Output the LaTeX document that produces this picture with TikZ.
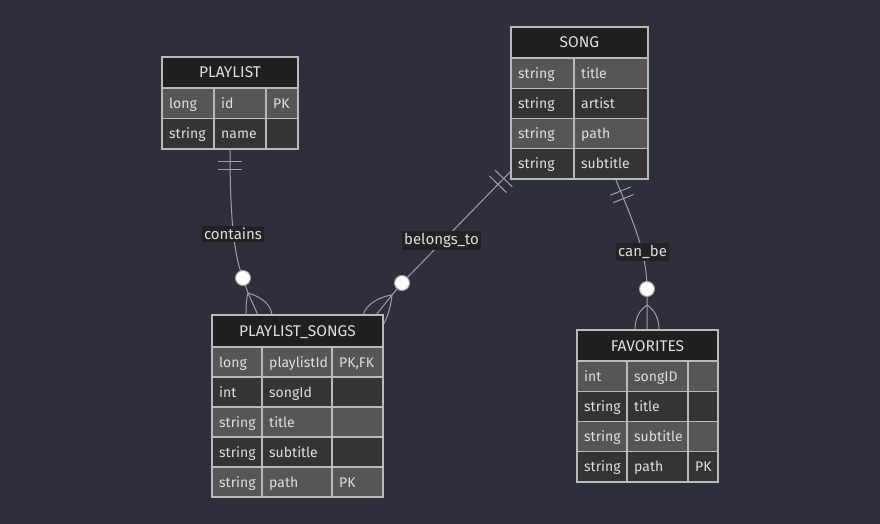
\documentclass[tikz,border=0pt]{standalone}
\usepackage{fontspec}
\setmainfont{Fira Sans}
\definecolor{bg}{RGB}{43,48,59}
\definecolor{hdr}{RGB}{31,32,32}
\definecolor{rowodd}{RGB}{86,86,86}
\definecolor{roweven}{RGB}{52,52,52}
\definecolor{bordercol}{RGB}{185,185,185}
\definecolor{txtcol}{RGB}{222,222,222}
\definecolor{linecol}{RGB}{160,160,160}
\definecolor{lblbg}{RGB}{33,34,36}
\newcommand\tcols[4]{\def\xa{#1}\def\xb{#2}\def\xc{#3}\def\xd{#4}}
\newcommand\thead[4]{%
  \draw[cellborder, fill=hdr] (\xa,#2) rectangle (\xd,#3);
  \node[hdrtext] (#1) at ({(\xa+\xd)/2},{(#2+#3)/2+5.5}) {#4};}
\newcommand\trow[7]{%
  \draw[cellborder, fill=#4] (\xa,#2) rectangle (\xb,#3);
  \draw[cellborder, fill=#4] (\xb,#2) rectangle (\xc,#3);
  \draw[cellborder, fill=#4] (\xc,#2) rectangle (\xd,#3);
  \node[celltext] (#1a) at ({\xa+7},{(#2+#3)/2+5}) {#5};
  \node[celltext] (#1b) at ({\xb+7},{(#2+#3)/2+5}) {#6};
  \node[celltext] (#1c) at ({\xc+7},{(#2+#3)/2+5}) {#7};}
\newcommand\trowii[6]{%
  \draw[cellborder, fill=#4] (\xa,#2) rectangle (\xb,#3);
  \draw[cellborder, fill=#4] (\xb,#2) rectangle (\xd,#3);
  \node[celltext] (#1a) at ({\xa+7},{(#2+#3)/2+5}) {#5};
  \node[celltext] (#1b) at ({\xb+7},{(#2+#3)/2+5}) {#6};}
\begin{document}
\begin{tikzpicture}[x=1pt,y=-1pt,
  cellborder/.style={draw=bordercol, line width=1.2pt},
  hdrtext/.style={anchor=base, inner sep=0pt, text=txtcol, font=\fontsize{15.5}{18}\selectfont},
  celltext/.style={anchor=base west, inner sep=0pt, text=txtcol, font=\fontsize{14}{16}\selectfont},
  conn/.style={draw=linecol, line width=1pt},
  lbl/.style={fill=lblbg, text=txtcol, inner sep=2.5pt, font=\fontsize{15}{17}\selectfont},
  zcirc/.style={circle, fill=white, draw=linecol, line width=1pt, minimum size=15pt, inner sep=0pt}]
\fill[bg] (0,0) rectangle (880,524);
\useasboundingbox (0,0) rectangle (880,524);

% connector end points
\coordinate (plB) at (230,149);
\coordinate (cC) at (243,278);
\coordinate (cF) at (248,293);
\coordinate (cM) at (258,315);
\coordinate (cL) at (246,315);
\coordinate (cR) at (272,315);

\coordinate (sgL) at (512,170);
\coordinate (bC) at (402,283);
\coordinate (bF) at (392,295);
\coordinate (bM) at (376,315);
\coordinate (bL) at (363,315);
\coordinate (bR) at (383,325);

\coordinate (sgB) at (616,180);
\coordinate (fC) at (647,289);
\coordinate (fF) at (647,305);
\coordinate (fM) at (647,330);
\coordinate (fL) at (635,330);
\coordinate (fR) at (659,330);

% contains
\draw[conn] (plB) .. controls (230,225) and (235,258) .. (cC) -- (cF) -- (cM);
\draw[conn] (cF) .. controls (246,300) and (246,307) .. (cL);
\draw[conn] (cF) .. controls (262,297) and (271,305) .. (cR);
\draw[conn] (218,161) -- (242,161);
\draw[conn] (218,169) -- (242,169);
\node[zcirc] (zc1) at (cC) {};
\node[lbl] (lcontains) at (233,234) {contains};

% belongs_to
\draw[conn] (sgL) -- (bC) -- (bF) -- (bM);
\draw[conn] (bF) .. controls (378,297) and (366,305) .. (bL);
\draw[conn] (bF) .. controls (391,305) and (388,317) .. (bR);
\draw[conn] (495.1,170.3) -- (512.3,186.9);
\draw[conn] (489.5,176.1) -- (506.7,192.7);
\node[zcirc] (zc2) at (bC) {};
\node[lbl] (lbelongs) at (441.5,240.5) {belongs\_to};

% can_be
\draw[conn] (sgB) .. controls (630,215) and (647,250) .. (fC) -- (fF) -- (fM);
\draw[conn] (fF) .. controls (638,311) and (635,320) .. (fL);
\draw[conn] (fF) .. controls (656,311) and (659,320) .. (fR);
\draw[conn] (610.3,195.2) -- (630.7,187.0);
\draw[conn] (613.2,202.7) -- (633.6,194.5);
\node[zcirc] (zc3) at (fC) {};
\node[lbl] (lcanbe) at (642.5,252) {can\_be};

% PLAYLIST
\tcols{162}{214}{266}{298}
\thead{plh}{57}{88}{PLAYLIST}
\trow{pl1}{88}{118.5}{rowodd}{long}{id}{PK}
\trow{pl2}{118.5}{149}{roweven}{string}{name}{}

% SONG
\tcols{511}{574}{648}{648}
\thead{sgh}{27}{58}{SONG}
\trowii{sg1}{58}{88.25}{rowodd}{string}{title}
\trowii{sg2}{88.25}{118.5}{roweven}{string}{artist}
\trowii{sg3}{118.5}{148.75}{rowodd}{string}{path}
\trowii{sg4}{148.75}{179}{roweven}{string}{subtitle}

% PLAYLIST_SONGS
\tcols{212}{262}{332}{383}
\thead{psh}{315}{347}{PLAYLIST\_SONGS}
\trow{ps1}{347}{377}{rowodd}{long}{playlistId}{PK,FK}
\trow{ps2}{377}{407}{roweven}{int}{songId}{}
\trow{ps3}{407}{437}{rowodd}{string}{title}{}
\trow{ps4}{437}{467}{roweven}{string}{subtitle}{}
\trow{ps5}{467}{497}{rowodd}{string}{path}{PK}

% FAVORITES
\tcols{577}{627}{688}{718}
\thead{fvh}{330}{361}{FAVORITES}
\trow{fv1}{361}{391.25}{rowodd}{int}{songID}{}
\trow{fv2}{391.25}{421.5}{roweven}{string}{title}{}
\trow{fv3}{421.5}{451.75}{rowodd}{string}{subtitle}{}
\trow{fv4}{451.75}{482}{roweven}{string}{path}{PK}
\end{tikzpicture}
\end{document}
